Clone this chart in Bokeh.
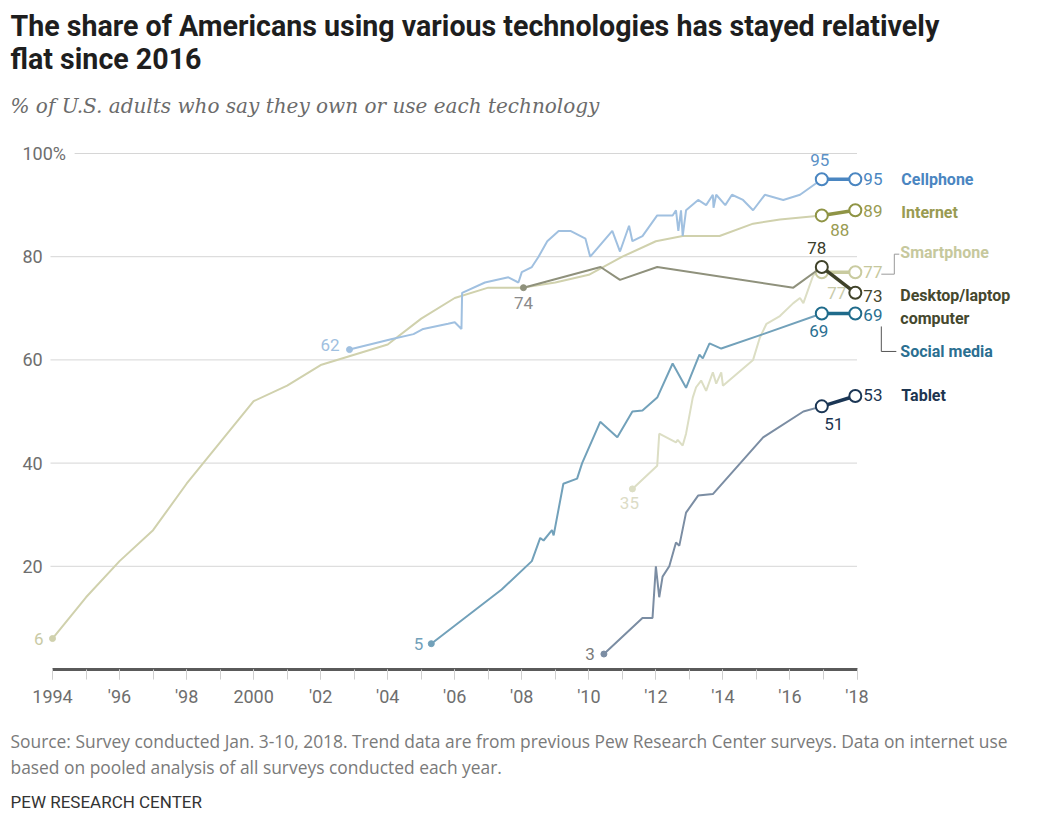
from bokeh.plotting import figure
from bokeh.models import Range1d, FixedTicker, Label, Title
from bokeh.core.properties import value
from bokeh.embed import file_html
from bokeh.resources import INLINE

# ---------------- data ----------------
X_TICKS = [1994, 1996, 1998, 2000, 2002, 2004, 2006, 2008, 2010, 2012, 2014, 2016, 2018]
X_TICK_LABELS = ["1994", "'96", "'98", "2000", "'02", "'04", "'06", "'08", "'10", "'12", "'14", "'16", "'18"]
X_MINOR = list(range(1994, 2019))
Y_TICKS = [20, 40, 60, 80, 100]
Y_TICK_LABELS = ["20", "40", "60", "80", "100%"]

cell_x = [2002.86, 2004.1, 2004.77, 2005.06, 2005.8, 2006.0, 2006.2, 2006.22, 2006.9, 2007.6,
          2007.9, 2008.0, 2008.3, 2008.5, 2008.76, 2009.1, 2009.45, 2009.9, 2010.04, 2010.7,
          2010.93, 2011.2, 2011.3, 2011.6, 2012.04, 2012.5, 2012.6, 2012.67, 2012.75, 2012.8,
          2012.9, 2013.26, 2013.5, 2013.7, 2013.72, 2013.8, 2014.07, 2014.27, 2014.6, 2014.9,
          2015.25, 2015.8, 2016.3, 2016.95, 2017.95]
cell_y = [62, 64, 65, 66, 67, 67.3, 66, 73, 75, 76,
          75, 77, 78, 80, 83, 85, 85, 83.5, 80, 85,
          81, 86, 83, 84, 88, 88, 89, 85, 89, 84,
          89, 91, 90, 92, 89.5, 92, 90, 92, 91, 89,
          92, 91, 92, 95, 95]

internet_x = [1994, 1995, 1996, 1997, 1998, 1999, 2000, 2001, 2002, 2003, 2004, 2005, 2006,
              2007, 2008, 2009, 2010, 2011, 2012, 2012.8, 2013.9, 2014.9, 2015.7, 2016.95, 2017.95]
internet_y = [6, 14, 21, 27, 36, 44, 52, 55, 59, 61, 63, 68, 72,
              74, 74, 75, 76.5, 80, 83, 84, 84, 86.4, 87.2, 88, 89]

smart_x = [2011.3, 2012.04, 2012.1, 2012.6, 2012.65, 2012.8, 2012.9, 2013.1, 2013.2, 2013.35,
           2013.5, 2013.7, 2013.8, 2013.95, 2014.0, 2014.9, 2015.1, 2015.3, 2015.7, 2016.1,
           2016.3, 2016.4, 2016.7, 2016.95, 2017.95]
smart_y = [35, 39.5, 45.7, 44, 44.5, 43.4, 45.7, 52.7, 54.7, 56,
           54, 57.6, 55.4, 57.6, 55, 60, 64.3, 67, 68.5, 71,
           72, 71, 76.5, 77, 77]

desktop_x = [2008.05, 2010.35, 2010.93, 2012.04, 2016.1, 2016.95, 2017.95]
desktop_y = [74, 78, 75.5, 78, 74, 78, 73]

social_x = [2005.3, 2006.5, 2007.4, 2008.3, 2008.55, 2008.65, 2008.9, 2008.95, 2009.24, 2009.65,
            2009.8, 2010.34, 2010.85, 2011.3, 2011.6, 2012.04, 2012.5, 2012.9, 2013.3, 2013.4,
            2013.6, 2013.95, 2015.2, 2016.95, 2017.95]
social_y = [5, 11, 15.5, 21, 25.5, 25, 27, 26, 36, 37,
            40, 48, 45, 50, 50.2, 52.7, 59.3, 54.6, 61, 60.3,
            63.2, 62.2, 65, 69, 69]

tablet_x = [2010.45, 2011.6, 2011.9, 2012.0, 2012.1, 2012.2, 2012.4, 2012.6, 2012.7, 2012.9,
            2013.26, 2013.7, 2015.2, 2016.4, 2016.95, 2017.95]
tablet_y = [3, 10, 10, 20, 14, 18, 20, 24.6, 24, 30.4,
            33.7, 34, 45, 50, 51, 53]

# ---------------- geometry ----------------
W, H = 1037, 833
FRAME_H = 669
KX = (856.5 - 52.0) / 24.0      # px per year
KY = 5.16                       # px per percentage point
X0 = 1994 - 52.0 / KX
X1 = X0 + W / KX
Y1 = FRAME_H / KY

FONT = "Roboto"

p = figure(width=W, height=H, x_range=Range1d(X0, X1), y_range=Range1d(0, Y1),
           y_axis_location=None, output_backend="svg", toolbar_location=None,
           min_border_left=0, min_border_right=0, min_border_top=0, min_border_bottom=H - FRAME_H)
p.outline_line_color = None
p.background_fill_color = "white"
p.border_fill_color = "white"
for g in p.grid:
    g.visible = False

# x axis
xa = p.xaxis[0]
xa.ticker = FixedTicker(ticks=X_TICKS, minor_ticks=X_MINOR)
xa.major_label_overrides = {t: s for t, s in zip(X_TICKS, X_TICK_LABELS)}
xa.bounds = (X_TICKS[0], X_TICKS[-1])
xa.axis_line_color = "#5a5a5a"
xa.axis_line_width = 3
xa.major_tick_line_color = "#cfcfcf"
xa.minor_tick_line_color = "#cfcfcf"
xa.major_tick_in = 0
xa.major_tick_out = 10
xa.minor_tick_in = 0
xa.minor_tick_out = 10
xa.major_label_standoff = 6
xa.major_label_text_font = FONT
xa.major_label_text_font_size = "18px"
xa.major_label_text_color = "#6e6e6e"

# y gridlines + labels (labels sit left-aligned at the plot's left edge)
grid_x0 = [X_TICKS[0] - 0.06 if t != 100 else X_TICKS[0] + 0.66 for t in Y_TICKS]
p.segment(x0=grid_x0, y0=Y_TICKS, x1=[X_TICKS[-1]] * len(Y_TICKS), y1=Y_TICKS,
          line_color="#d6d6d6", line_width=1)
p.text(x=[X_TICKS[0]] * len(Y_TICKS), y=Y_TICKS, text=Y_TICK_LABELS, x_offset=-30,
       text_align="left", text_baseline="middle", text_font=value(FONT),
       text_font_size="18px", text_color="#6e6e6e")


def px2dx(px):
    return px / KX


def px2dy(px):
    return px / KY


series = [
    dict(x=internet_x, y=internet_y, hist="#d0d1ad", hi="#8f9445", txt="#999b52",
         start_col="#c9caa5", start_off=(-9, 0, "right"),
         mid_off=(18, 15), mid_col="#999b52",
         end_off=(8, 1), name=["Internet"], name_off=[(46, 2)]),
    dict(x=smart_x, y=smart_y, hist="#dcdec4", hi="#c9cba0", txt="#c6c89d",
         start_col="#dcdcc6", start_off=(-3, 14, "center"),
         mid_off=(15, 21), mid_col="#c9cbaa",
         end_off=(8, 0), name=["Smartphone"], name_off=[(45, -20)]),
    dict(x=cell_x, y=cell_y, hist="#a0c0e0", hi="#4a86c1", txt="#4a86c1",
         start_col="#a0c0e0", start_off=(-10, -5, "right"),
         mid_off=(-2, -19), mid_col="#5a90c6",
         end_off=(8, 0), name=["Cellphone"], name_off=[(46, 0)]),
    dict(x=desktop_x, y=desktop_y, hist="#8f917c", hi="#3f4229", txt="#45482e",
         start_col="#8a8a8a", start_off=(0, 15, "center"),
         mid_off=(-5, -19), mid_col="#3a3d2a",
         end_off=(8, 3), name=["Desktop/laptop", "computer"], name_off=[(45, 3), (45, 26)]),
    dict(x=social_x, y=social_y, hist="#72a1ba", hi="#1f6b8b", txt="#2b6f91",
         start_col="#72a1ba", start_off=(-8, 0, "right"),
         mid_off=(-3, 18), mid_col="#2b6f91",
         end_off=(8, 2), name=["Social media"], name_off=[(45, 38)]),
    dict(x=tablet_x, y=tablet_y, hist="#7b8da3", hi="#1b3655", txt="#1d3550",
         start_col="#7a7a7a", start_off=(-9, 0, "right"),
         mid_off=(12, 18), mid_col="#1d3550",
         end_off=(8, -1), name=["Tablet"], name_off=[(46, -1)]),
]


def fmt(v):
    return f"{v:.0f}"


for s in series:
    xs, ys = s["x"], s["y"]
    # history line
    p.line(xs[:-1], ys[:-1], line_color=s["hist"], line_width=2)
    # latest change between the two most recent surveys
    p.line(xs[-2:], ys[-2:], line_color=s["hi"], line_width=3.5)
    p.scatter(xs[-2:], ys[-2:], size=12, fill_color="white", line_color=s["hi"], line_width=2)
    # starting point
    p.scatter([xs[0]], [ys[0]], size=6, fill_color=s["hist"], line_color=s["hist"])
    dx, dy, al = s["start_off"]
    p.text(x=[xs[0]], y=[ys[0]], text=[fmt(ys[0])], x_offset=dx, y_offset=dy,
           text_align=al, text_baseline="middle", text_font=value(FONT),
           text_font_size="17px", text_color=s["start_col"])
    # value at the earlier of the two highlighted surveys
    mx, my = s["mid_off"]
    p.text(x=[xs[-2]], y=[ys[-2]], text=[fmt(ys[-2])], x_offset=mx, y_offset=my,
           text_align="center", text_baseline="middle", text_font=value(FONT),
           text_font_size="17px", text_color=s["mid_col"])
    # latest value and series name
    ex, ey = s["end_off"]
    p.text(x=[xs[-1]], y=[ys[-1]], text=[fmt(ys[-1])], x_offset=ex, y_offset=ey,
           text_align="left", text_baseline="middle", text_font=value(FONT),
           text_font_size="17px", text_color=s["txt"])
    for nm, (nx, ny) in zip(s["name"], s["name_off"]):
        p.text(x=[xs[-1]], y=[ys[-1]], text=[nm], x_offset=nx, y_offset=ny,
               text_align="left", text_baseline="middle", text_font=value(FONT),
               text_font_style="bold", text_font_size="16px", text_color=s["txt"])

# leader brackets tying crowded values to their names
sx, sy = smart_x[-1], smart_y[-1]
p.line([sx + px2dx(26), sx + px2dx(39), sx + px2dx(39), sx + px2dx(44)],
       [sy - px2dy(2), sy - px2dy(2), sy + px2dy(18), sy + px2dy(18)],
       line_color="#9a9a9a", line_width=1)
ox, oy = social_x[-1], social_y[-1]
p.line([ox + px2dx(26), ox + px2dx(26), ox + px2dx(41)],
       [oy - px2dy(13), oy - px2dy(38), oy - px2dy(38)],
       line_color="#555555", line_width=1)


# ---------------- titles ----------------
def add_label(text, top, size, color, style="normal", font=FONT):
    p.add_layout(Label(x=10, y=FRAME_H - top, x_units="screen", y_units="screen", text=text,
                       text_baseline="top", text_align="left", text_font=font,
                       text_font_size=size, text_font_style=style, text_color=color))


add_label("The share of Americans using various technologies has stayed relatively", 8, "28.6px", "#1e1e1e", "bold")
add_label("flat since 2016", 41, "28.6px", "#1e1e1e", "bold")
add_label("% of U.S. adults who say they own or use each technology", 93, "20px", "#6b6b6b", "italic", "DejaVu Serif")


# ---------------- notes under the axis ----------------
def add_note(text, standoff, size, color, font=FONT):
    p.add_layout(Title(text=text, align="left", offset=10, standoff=standoff,
                       text_font=font, text_font_size=size, text_font_style="normal",
                       text_color=color), "below")


add_note(" ", 4, "10px", "#ffffff")   # gap between the axis and the notes
add_note("Source: Survey conducted Jan. 3-10, 2018. Trend data are from previous Pew Research Center surveys. "
         "Data on internet use", 0, "17.4px", "#7a7a7a", "Open Sans")
add_note("based on pooled analysis of all surveys conducted each year.", 1, "17.4px", "#7a7a7a", "Open Sans")
add_note("PEW RESEARCH CENTER", 20, "17px", "#333333")

open("out.html", "w").write(file_html(p, INLINE))
